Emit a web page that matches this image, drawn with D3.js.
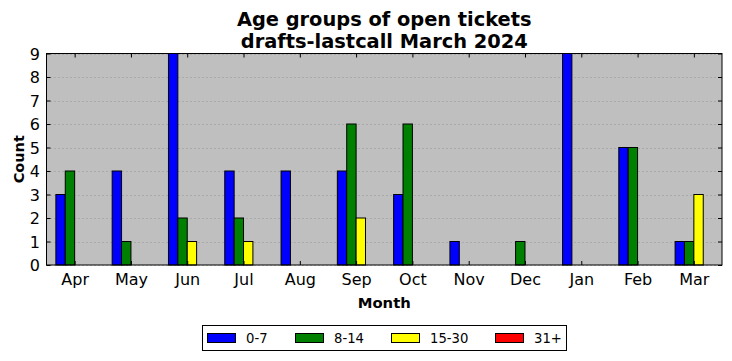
<!DOCTYPE html>
<html><head><meta charset="utf-8">
<script src="https://cdn.jsdelivr.net/npm/d3@7"></script>
<style>body{margin:0;background:#fff}svg{display:block;font-family:"DejaVu Sans",sans-serif}</style>
</head><body><svg id="c" width="732" height="361"></svg>
<script>
const months = ["Apr","May","Jun","Jul","Aug","Sep","Oct","Nov","Dec","Jan","Feb","Mar"];
const seriesNames = ["0-7","8-14","15-30","31+"];
const seriesColors = ["#0000ff","#008000","#ffff00","#ff0000"];
const s0_7   = [3,4,9,4,4,4,3,1,0,9,5,1];
const s8_14  = [4,1,2,2,0,6,6,0,1,0,5,1];
const s15_30 = [0,0,1,1,0,2,0,0,0,0,0,3];
const s31    = [0,0,0,0,0,0,0,0,0,0,0,0];
const yTicks = [0,1,2,3,4,5,6,7,8,9];
const titleLines = ["Age groups of open tickets","drafts-lastcall March 2024"];

const allSeries = [s0_7, s8_14, s15_30, s31];
const svg = d3.select("#c");
const L=46.5, R=722, T=53.5, B=265;
const x = d3.scaleLinear().domain([-0.5, months.length-0.5]).range([L,R]);
const y = d3.scaleLinear().domain([0,9]).range([B,T]);
const w = 1/6;

svg.append("rect").attr("x",L).attr("y",T).attr("width",R-L).attr("height",B-T).attr("fill","#bfbfbf");
// grid
svg.append("g").selectAll("line").data(yTicks).join("line")
  .attr("x1",L).attr("x2",R).attr("y1",d=>Math.round(y(d))+0.5).attr("y2",d=>Math.round(y(d))+0.5)
  .attr("stroke","#8a8a8a").attr("stroke-width",0.8).attr("stroke-dasharray","1,3");
// bars
allSeries.forEach((s,i)=>{
  svg.append("g").selectAll("rect").data(s).join("rect")
    .attr("x",(d,j)=>x(j+(i-2)*w))
    .attr("width",x(w)-x(0))
    .attr("y",d=>y(d))
    .attr("height",d=>y(0)-y(d))
    .attr("fill",seriesColors[i]).attr("stroke","#000").attr("stroke-width",1);
});
// frame
svg.append("rect").attr("x",L).attr("y",T).attr("width",R-L).attr("height",B-T).attr("fill","none").attr("stroke","#000").attr("stroke-width",1);

// axes
const xb = d3.axisBottom(x).tickValues(d3.range(months.length)).tickFormat(i=>months[i]).tickSizeInner(-4).tickSizeOuter(0).tickPadding(8.5);
const gx = svg.append("g").attr("transform",`translate(0,${B})`).call(xb);
const xt = d3.axisTop(x).tickValues(d3.range(months.length)).tickFormat("").tickSizeInner(-4).tickSizeOuter(0);
const gxt = svg.append("g").attr("transform",`translate(0,${T})`).call(xt);
const yl = d3.axisLeft(y).tickValues(yTicks).tickFormat(d3.format("d")).tickSizeInner(-4).tickSizeOuter(0).tickPadding(6.5);
const gy = svg.append("g").attr("transform",`translate(${L},0)`).call(yl);
const yr = d3.axisRight(y).tickValues(yTicks).tickFormat("").tickSizeInner(-4).tickSizeOuter(0);
const gyr = svg.append("g").attr("transform",`translate(${R},0)`).call(yr);
[gx,gxt,gy,gyr].forEach(g=>{g.select(".domain").remove();g.selectAll("line").attr("stroke","#000");g.selectAll("text").attr("font-family","DejaVu Sans").attr("font-size",16).attr("fill","#000");});
gy.selectAll("text").attr("dy","0.36em");

// title
svg.append("text").attr("x",(L+R)/2).attr("y",25.7).attr("text-anchor","middle").attr("font-size",19.4).attr("font-weight","bold").text(titleLines[0]);
svg.append("text").attr("x",(L+R)/2).attr("y",47.7).attr("text-anchor","middle").attr("font-size",19.4).attr("font-weight","bold").text(titleLines[1]);
// axis labels
svg.append("text").attr("x",(L+R)/2).attr("y",308.3).attr("text-anchor","middle").attr("font-size",14.8).attr("font-weight","bold").text("Month");
svg.append("text").attr("transform",`translate(23.5,${(T+B)/2}) rotate(-90)`).attr("text-anchor","middle").attr("font-size",14.5).attr("font-weight","bold").text("Count");

// legend
const lg = svg.append("g");
lg.append("rect").attr("x",202.5).attr("y",325.5).attr("width",364).attr("height",25).attr("fill","#fff").attr("stroke","#000");
const lx = [207,295,391,495];
seriesNames.forEach((n,i)=>{
  lg.append("rect").attr("x",lx[i]+0.5).attr("y",333.5).attr("width",28).attr("height",9).attr("fill",seriesColors[i]).attr("stroke","#000");
  lg.append("text").attr("x",lx[i]+39).attr("y",343).attr("font-size",13.2).text(n);
});
</script></body></html>
